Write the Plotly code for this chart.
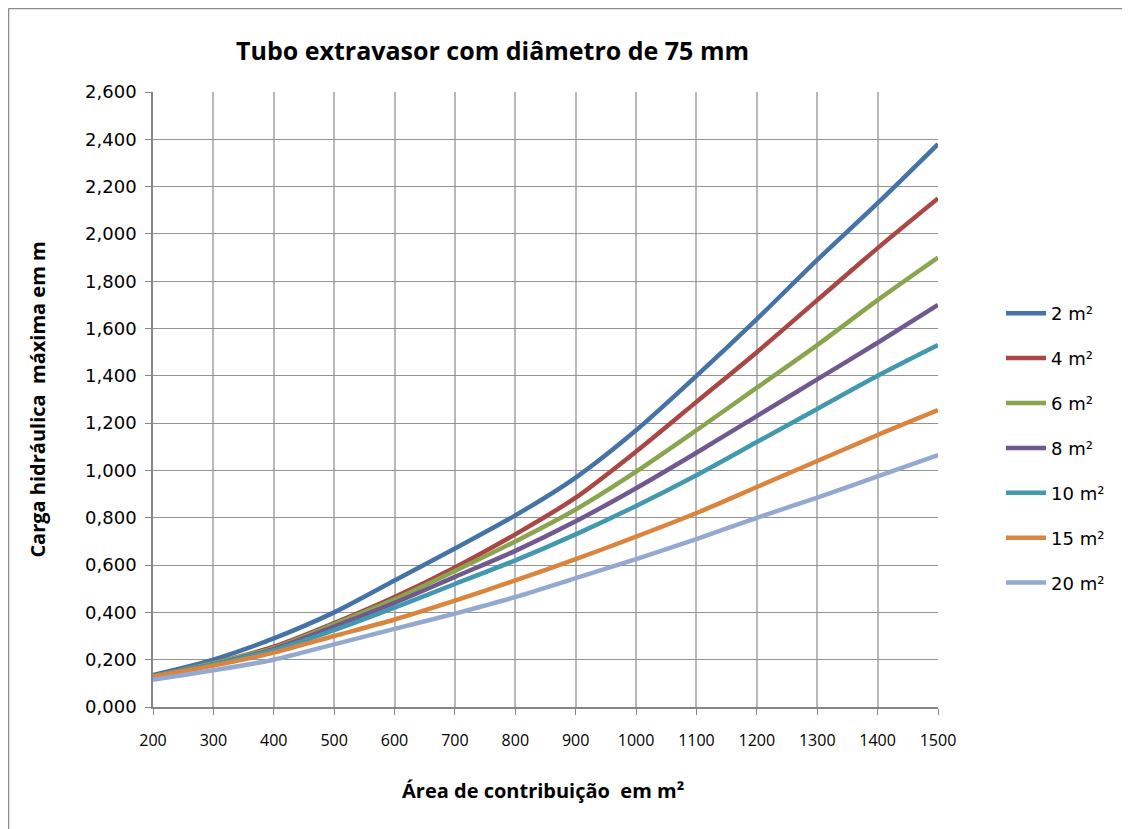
import plotly.graph_objects as go

area = [200, 300, 400, 500, 600, 700, 800, 900, 1000, 1100, 1200, 1300, 1400, 1500]

series_names = ["2 m²", "4 m²", "6 m²", "8 m²", "10 m²", "15 m²", "20 m²"]

s2 = [0.135, 0.200, 0.290, 0.400, 0.535, 0.670, 0.810, 0.970, 1.170, 1.400, 1.640, 1.890, 2.130, 2.380]
s4 = [0.130, 0.185, 0.255, 0.355, 0.465, 0.590, 0.730, 0.885, 1.080, 1.290, 1.500, 1.720, 1.940, 2.150]
s6 = [0.130, 0.185, 0.250, 0.350, 0.455, 0.575, 0.700, 0.835, 0.995, 1.170, 1.350, 1.530, 1.720, 1.900]
s8 = [0.130, 0.180, 0.245, 0.340, 0.440, 0.550, 0.660, 0.785, 0.925, 1.075, 1.230, 1.385, 1.540, 1.700]
s10 = [0.130, 0.180, 0.240, 0.325, 0.420, 0.520, 0.620, 0.730, 0.850, 0.980, 1.120, 1.260, 1.400, 1.530]
s15 = [0.130, 0.175, 0.230, 0.300, 0.370, 0.450, 0.535, 0.625, 0.720, 0.820, 0.930, 1.040, 1.150, 1.255]
s20 = [0.115, 0.155, 0.200, 0.265, 0.330, 0.395, 0.465, 0.545, 0.625, 0.710, 0.800, 0.885, 0.975, 1.065]

all_series = [s2, s4, s6, s8, s10, s15, s20]
colors = ["#4572A7", "#AA4643", "#89A54E", "#71588F", "#4198AF", "#DB843D", "#93A9CF"]

x_ticks = list(range(200, 1501, 100))
y_ticks = [i * 0.2 for i in range(14)]

# layout geometry (figure pixels)
L, T, W, H = 145, 84, 785, 615

fig = go.Figure()
for i, (name, vals, col) in enumerate(zip(series_names, all_series, colors)):
    fig.add_trace(go.Scatter(
        x=area, y=vals, name=name, mode="lines",
        line=dict(color=col, width=4.5, shape="spline", smoothing=0.8),
        legendgroup=f"g{i}",
    ))


def px(xp):
    return (xp - L) / W


def py(yp):
    return 1 - (yp - T) / H


fig.update_layout(
    width=1130, height=829,
    margin=dict(l=L, r=1130 - L - W, t=T, b=829 - T - H),
    paper_bgcolor="white", plot_bgcolor="white",
    separators=",.",
    font=dict(family="Open Sans, sans-serif", size=15, color="black"),
    showlegend=True,
    legend=dict(
        x=px(993), y=py(287), xanchor="left", yanchor="top",
        font=dict(size=18, color="black", family="DejaVu Sans, sans-serif"),
        tracegroupgap=18.5, traceorder="grouped",
        itemwidth=40, bgcolor="rgba(0,0,0,0)",
    ),
    annotations=[
        dict(text="<b>Tubo extravasor com diâmetro de 75 mm</b>", xref="paper", yref="paper",
             x=px(484), y=py(42), xanchor="center", yanchor="middle",
             showarrow=False, font=dict(size=25, family="Open Sans, sans-serif")),
        dict(text="<b>Área de contribuição  em m²</b>", xref="paper", yref="paper",
             x=px(535), y=py(782), xanchor="center", yanchor="middle",
             showarrow=False, font=dict(size=20, family="Open Sans, sans-serif")),
    ],
    shapes=[
        dict(type="line", xref="paper", yref="paper",
             x0=px(0.5), x1=px(1135), y0=py(0.5), y1=py(0.5),
             line=dict(color="#8C8C8C", width=1.5), layer="below"),
        dict(type="line", xref="paper", yref="paper",
             x0=px(0.5), x1=px(0.5), y0=py(0.5), y1=py(835),
             line=dict(color="#8C8C8C", width=1.5), layer="below"),
    ],
)

fig.update_xaxes(
    range=[200, 1500], tickvals=x_ticks, ticktext=[str(v) for v in x_ticks],
    showgrid=True, gridcolor="#B8B8B8", gridwidth=1.5,
    showline=True, linecolor="#868686", linewidth=1.5,
    ticks="outside", ticklen=6, tickcolor="#868686", ticklabelstandoff=12,
    tickfont=dict(size=16, family="Open Sans, sans-serif"), zeroline=False,
)
fig.update_yaxes(
    range=[0, 2.6], tickvals=y_ticks, tickformat=".3f",
    showgrid=True, gridcolor="#939393", gridwidth=1.3,
    showline=True, linecolor="#868686", linewidth=1.5,
    ticks="outside", ticklen=6, tickcolor="#868686", ticklabelstandoff=5,
    tickfont=dict(size=18, family="DejaVu Sans, sans-serif"), zeroline=False,
    title=dict(text="<b>Carga hidráulica  máxima em m</b>", standoff=34,
               font=dict(size=20, family="Open Sans, sans-serif")),
    automargin=False,
)

fig.write_html("out.html")
